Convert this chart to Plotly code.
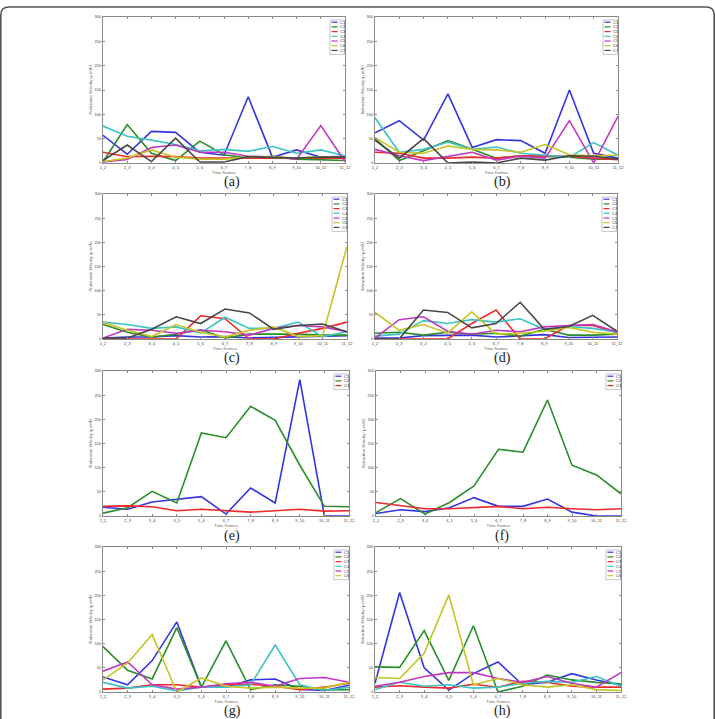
import plotly.graph_objects as go

# ---------------- data ----------------
frames = ["1_2", "2_3", "3_4", "4_5", "5_6", "6_7", "7_8", "8_9", "9_10", "10_11", "11_12"]
clusters = ["C1", "C2", "C3", "C4", "C5", "C6", "C7"]
colors = ["#3535e0", "#2a8c2a", "#ee2a2a", "#3cc4c4", "#c236c2", "#c4c424", "#474747"]

# (a) protrusion
panel_a = [
    [57, 18, 65, 63, 22, 16, 136, 12, 27, 12, 14],
    [2, 79, 20, 5, 45, 17, 10, 14, 8, 7, 5],
    [22, 13, 14, 13, 10, 10, 9, 9, 9, 10, 10],
    [76, 55, 47, 38, 25, 28, 24, 34, 20, 27, 15],
    [2, 7, 32, 37, 22, 22, 14, 12, 8, 77, 3],
    [3, 10, 27, 12, 8, 8, 12, 12, 10, 12, 12],
    [5, 37, 3, 51, 2, 2, 13, 12, 10, 12, 12],
]
# (b) retraction
panel_b = [
    [62, 87, 47, 142, 32, 48, 46, 20, 150, 20, 10],
    [50, 5, 25, 46, 28, 10, 15, 14, 12, 8, 8],
    [22, 20, 10, 10, 12, 10, 15, 15, 14, 10, 7],
    [93, 22, 28, 43, 28, 33, 20, 16, 12, 42, 16],
    [28, 15, 5, 13, 22, 6, 14, 10, 87, 0, 96],
    [52, 22, 20, 35, 28, 27, 22, 38, 17, 15, 16],
    [47, 10, 50, 0, 2, 0, 10, 6, 15, 14, 8],
]
# (c) protrusion
panel_c = [
    [2, 4, 4, 7, 4, 5, 2, 3, 4, 5, 7],
    [30, 14, 4, 10, 19, 2, 10, 10, 10, 8, 8],
    [0, 0, 0, 0, 48, 42, 0, 0, 12, 22, 35],
    [35, 30, 22, 25, 12, 45, 22, 22, 35, 5, 15],
    [2, 20, 18, 12, 18, 15, 8, 22, 28, 25, 15],
    [34, 18, 5, 30, 14, 4, 18, 25, 5, 7, 192],
    [2, 2, 20, 46, 32, 62, 54, 20, 28, 31, 15],
]
# (d) retraction
panel_d = [
    [2, 2, 7, 8, 8, 4, 7, 9, 3, 3, 4],
    [12, 14, 8, 14, 10, 12, 6, 20, 8, 8, 10],
    [0, 0, 0, 0, 32, 60, 0, 0, 28, 28, 13],
    [6, 10, 38, 32, 40, 35, 42, 20, 26, 22, 14],
    [2, 40, 46, 16, 10, 18, 15, 25, 28, 30, 15],
    [55, 18, 30, 12, 56, 10, 12, 16, 24, 14, 10],
    [0, 0, 60, 55, 23, 32, 76, 20, 26, 49, 16],
]
# (e) protrusion
panel_e = [
    [18, 14, 29, 34, 40, 4, 58, 27, 282, 0, 0],
    [6, 17, 51, 27, 172, 162, 227, 198, 105, 20, 19],
    [20, 21, 19, 11, 14, 11, 8, 11, 14, 10, 11],
]
# (f) retraction
panel_f = [
    [5, 13, 9, 17, 38, 20, 20, 35, 8, 0, 0],
    [7, 36, 4, 28, 62, 138, 132, 240, 105, 85, 46],
    [28, 22, 15, 15, 18, 20, 15, 18, 15, 13, 15],
]
# (g) protrusion
panel_g = [
    [31, 15, 65, 145, 10, 10, 25, 27, 5, 3, 14],
    [94, 45, 27, 133, 10, 106, 5, 15, 12, 4, 5],
    [6, 8, 15, 15, 10, 15, 16, 12, 5, 10, 18],
    [20, 8, 12, 2, 10, 10, 15, 97, 15, 3, 10],
    [43, 62, 15, 6, 10, 17, 20, 12, 28, 30, 20],
    [25, 60, 119, 0, 29, 12, 8, 10, 8, 8, 20],
]
# (h) retraction
panel_h = [
    [18, 206, 50, 4, 38, 62, 15, 20, 38, 25, 14],
    [52, 51, 127, 24, 137, 0, 12, 35, 25, 20, 17],
    [10, 13, 10, 8, 16, 10, 22, 20, 12, 10, 10],
    [5, 20, 12, 15, 8, 10, 18, 22, 20, 32, 12],
    [12, 20, 32, 40, 40, 28, 20, 32, 18, 10, 40],
    [30, 28, 80, 201, 15, 28, 15, 10, 15, 5, 3],
]

y_ticks = [0, 50, 100, 150, 200, 250, 300]
prot_title = "Protrusion Velocity (\u00b5 m/h)"
retr_title = "Retraction Velocity (\u00b5 m/h)"
x_title = "Time frames"
captions = ["(a)", "(b)", "(c)", "(d)", "(e)", "(f)", "(g)", "(h)"]

# ---------------- layout geometry (pixels) ----------------
W, H = 715, 719
rects = [  # left, top, right, bottom
    (103, 17, 345, 163), (375, 17, 618, 163),
    (103, 194, 347, 339), (375, 194, 617, 339),
    (103, 371, 349, 516), (376, 371, 621, 516),
    (103, 547, 349, 692), (375, 547, 621, 692),
]
cap_pos = [(232, 182), (502, 182), (232, 358), (502, 358),
           (232, 536), (502, 536), (232, 711), (502, 711)]

def px(x):
    return x / W

def py(y):
    return 1 - y / H

panels = [panel_a, panel_b, panel_c, panel_d, panel_e, panel_f, panel_g, panel_h]
titles = [prot_title, retr_title] * 4

fig = go.Figure()
layout = dict(
    width=W, height=H, margin=dict(l=0, r=0, t=0, b=0),
    paper_bgcolor="white", plot_bgcolor="white", showlegend=False,
)
shapes = []
annotations = []
axis_col = "#8a8a8a"
tick_font = dict(size=4, color="#444444", family="Liberation Sans")

for i, (panel, rect) in enumerate(zip(panels, rects)):
    n = i + 1
    xa = "x" if n == 1 else f"x{n}"
    ya = "y" if n == 1 else f"y{n}"
    for k, series in enumerate(panel):
        fig.add_trace(go.Scatter(
            x=frames, y=series, mode="lines", name=clusters[k],
            line=dict(color=colors[k], width=1.6),
            xaxis=xa, yaxis=ya, hoverinfo="skip",
        ))
    l, t, r, b = rect
    layout[f"xaxis{n}"] = dict(
        domain=[px(l), px(r)], anchor=ya, type="category",
        categoryorder="array", categoryarray=frames, range=[0, len(frames) - 1],
        showline=True, linecolor=axis_col, linewidth=0.8, mirror="ticks",
        ticks="inside", ticklen=2, tickcolor=axis_col, tickwidth=0.6,
        showgrid=False, zeroline=False, tickfont=tick_font, tickangle=0,
        title=dict(text=x_title, font=dict(size=4, color="#444444"), standoff=0),
        automargin=False,
    )
    layout[f"yaxis{n}"] = dict(
        domain=[py(b), py(t)], anchor=xa, range=[0, 300],
        tickvals=y_ticks, showline=True, linecolor=axis_col, linewidth=0.8,
        mirror="ticks", ticks="inside", ticklen=2, tickcolor=axis_col,
        tickwidth=0.6, showgrid=False, zeroline=False, tickfont=tick_font,
        title=dict(text=titles[i], font=dict(size=4, color="#444444"), standoff=2),
        automargin=False,
    )
    # legend box
    m = len(panel)
    row_h = 4.7
    lx1 = r - 0.5
    lx0 = lx1 - 14.5
    ly0 = t + 3
    ly1 = ly0 + m * row_h + 1.5
    shapes.append(dict(type="rect", xref="paper", yref="paper",
                       x0=px(lx0), x1=px(lx1), y0=py(ly1), y1=py(ly0),
                       line=dict(color="#a0a0a0", width=0.6), fillcolor="white"))
    for k in range(m):
        yy = ly0 + 2.2 + k * row_h
        shapes.append(dict(type="line", xref="paper", yref="paper",
                           x0=px(lx0 + 1.5), x1=px(lx0 + 7.5), y0=py(yy), y1=py(yy),
                           line=dict(color=colors[k], width=1.2)))
        annotations.append(dict(text=clusters[k], xref="paper", yref="paper",
                                x=px(lx0 + 8), y=py(yy), xanchor="left", yanchor="middle",
                                showarrow=False, font=dict(size=4, color="#333333",
                                                           family="Liberation Sans")))
    cx, cy = cap_pos[i]
    annotations.append(dict(text=captions[i], xref="paper", yref="paper",
                            x=px(cx), y=py(cy), xanchor="center", yanchor="middle",
                            showarrow=False,
                            font=dict(size=14, color="#222222", family="Liberation Serif")))

# outer rounded frame (top border of the figure panel)
fy = 7
frame_path = (f"M {px(0.8)},{py(H)} L {px(0.8)},{py(fy + 8)} "
              f"Q {px(0.8)},{py(fy)} {px(9)},{py(fy)} "
              f"L {px(W - 9)},{py(fy)} Q {px(W - 0.8)},{py(fy)} {px(W - 0.8)},{py(fy + 8)} "
              f"L {px(W - 0.8)},{py(H)}")
shapes.append(dict(type="path", xref="paper", yref="paper", path=frame_path,
                   line=dict(color="#555555", width=1.6)))

layout["shapes"] = shapes
layout["annotations"] = annotations
fig.update_layout(**layout)
fig.write_html("out.html")
